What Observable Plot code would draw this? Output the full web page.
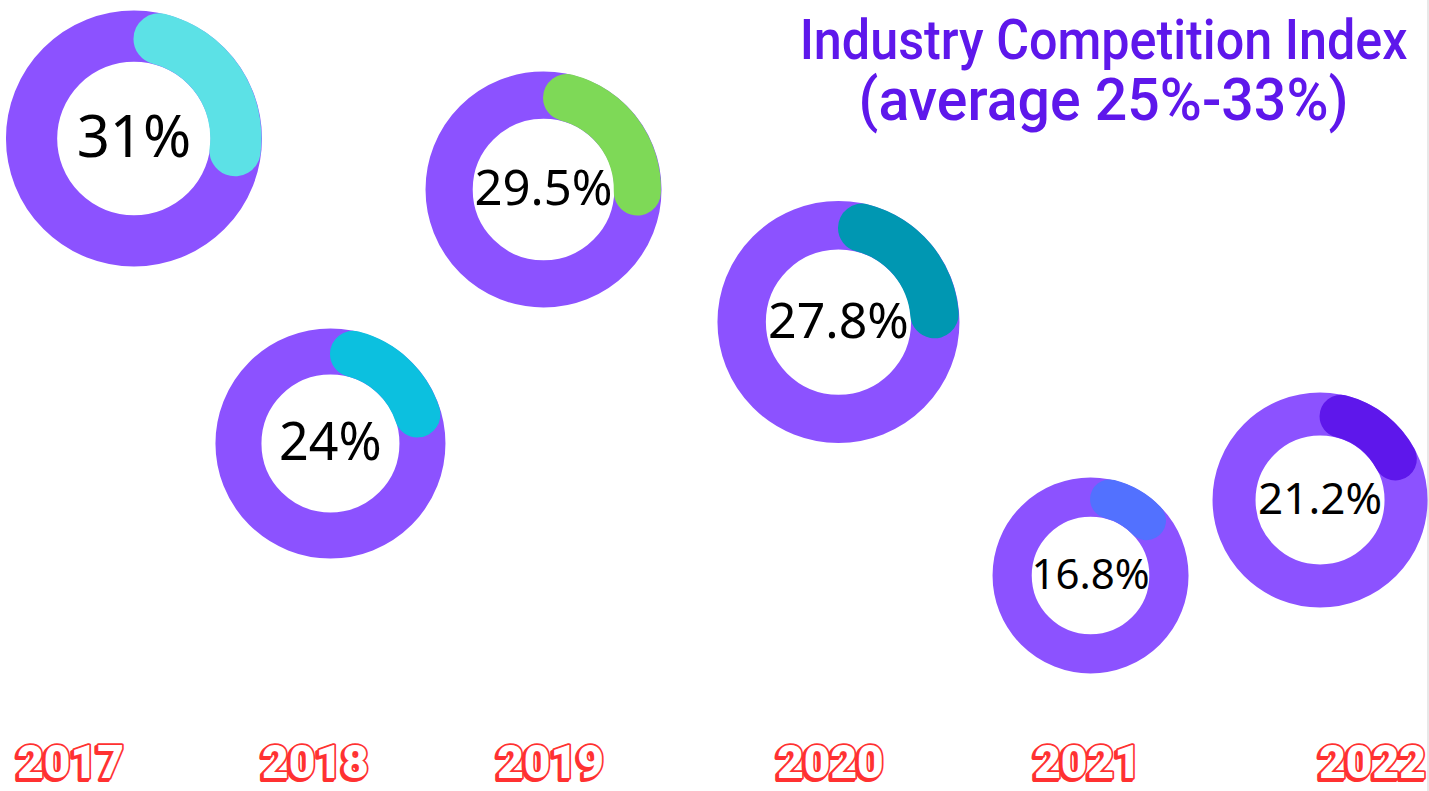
<!DOCTYPE html>
<html>
<head>
<meta charset="utf-8">
<script src="https://cdn.jsdelivr.net/npm/d3@7"></script>
<script src="https://cdn.jsdelivr.net/npm/@observablehq/plot@0.6"></script>
<style>
  html, body { margin: 0; padding: 0; background: #fff; overflow: hidden; }
</style>
</head>
<body>
<div id="chart"></div>
<script>
// ---- data ----
const years = ["2017", "2018", "2019", "2020", "2021", "2022"];
const values = [31, 24, 29.5, 27.8, 16.8, 21.2];
const titleLines = ["Industry Competition Index", "(average 25%-33%)"];

// ---- layout (percent of width / height; radii in px) ----
const centerX = [9.34, 23.09, 38.0, 58.64, 76.28, 92.34];
const centerY = [17.45, 56.0, 23.9, 40.65, 72.69, 63.15];
const outerR = [128, 115, 118, 121, 98, 107.5];
const labelSize = [58, 52, 49, 50, 42, 44];
const yearX = [4.9, 22.04, 38.49, 58.08, 76.07, 96.01];
const yearY = 96.4;
const titleX = 77.19;
const titleY = [7.42, 15.17];
const titleSize = [55, 60];
const titleWidth = [608, 490];

// ---- styles ----
const arcColors = ["#5CE1E6", "#0CC0DF", "#7ED957", "#0097B2", "#5271FF", "#5E17EB"];
const trackColor = "#8C52FF";
const titleColor = "#5E17EB";
const yearRed = "#FF3131";

const W = 1429, H = 791;
const idx = d3.range(years.length);

function progressArcs(index, scales) {
  const sx = (scales && typeof scales.x === "function") ? scales.x : d3.scaleLinear([0, 100], [0, W]);
  const sy = (scales && typeof scales.y === "function") ? scales.y : d3.scaleLinear([0, 100], [0, H]);
  const g = d3.create("svg:g");
  const arc = d3.arc().cornerRadius(d => d.cornerRadius);
  idx.forEach(i => {
    const R = outerR[i], r0 = R * 0.6;
    g.append("path")
      .attr("transform", `translate(${sx(centerX[i])},${sy(centerY[i])})`)
      .attr("fill", arcColors[i])
      .attr("d", arc({
        innerRadius: r0,
        outerRadius: R,
        startAngle: 0,
        endAngle: 2 * Math.PI * values[i] / 100,
        cornerRadius: (R - r0) / 2
      }));
  });
  return g.node();
}

const chart = Plot.plot({
  width: W,
  height: H,
  margin: 0,
  x: {domain: [0, 100], range: [0, W], axis: null},
  y: {domain: [0, 100], range: [0, H], axis: null},
  r: {type: "identity"},
  style: {background: "white", overflow: "visible", boxShadow: "inset -2px 0 0 #e8e8e8"},
  marks: [
    // track rings
    Plot.dot(idx, {
      x: i => centerX[i],
      y: i => centerY[i],
      r: i => outerR[i] * 0.8,
      strokeWidth: i => outerR[i] * 0.4,
      stroke: trackColor,
      fill: "none"
    }),
    // progress arcs
    progressArcs,
    // centre labels
    Plot.text(idx, {
      x: i => centerX[i],
      y: i => centerY[i],
      text: i => values[i] + "%",
      fontSize: i => labelSize[i],
      fontFamily: "Noto Sans",
      fill: "black"
    }),
    // year labels: shadow then main
    Plot.text(idx, {
      x: i => yearX[i],
      y: yearY,
      text: i => years[i],
      dx: -2, dy: 2,
      fontSize: 46,
      fontWeight: 900,
      fontFamily: "Roboto",
      fill: yearRed,
      stroke: yearRed,
      strokeWidth: 4,
      strokeLinejoin: "round"
    }),
    Plot.text(idx, {
      x: i => yearX[i],
      y: yearY,
      text: i => years[i],
      fontSize: 46,
      fontWeight: 900,
      fontFamily: "Roboto",
      fill: "white",
      stroke: yearRed,
      strokeWidth: 3.5,
      strokeLinejoin: "round",
      paintOrder: "stroke"
    }),
    // title lines
    ...titleLines.map((line, k) => Plot.text([line], {
      x: titleX,
      y: titleY[k],
      text: d => d,
      fontSize: titleSize[k],
      fontFamily: "Roboto",
      fontWeight: 500,
      fill: titleColor,
      lineAnchor: "bottom",
      textAnchor: "middle"
    }))
  ]
});

document.getElementById("chart").appendChild(chart);

// condense the title lines horizontally (narrow typeface look)
d3.select(chart).selectAll("text").each(function () {
  const k = titleLines.indexOf(this.textContent);
  if (k < 0) return;
  const natural = this.getComputedTextLength();
  if (!natural) return;
  const s = titleWidth[k] / natural;
  const cx = W * titleX / 100;
  const wrap = document.createElementNS("http://www.w3.org/2000/svg", "g");
  wrap.setAttribute("transform", `translate(${cx},0) scale(${s},1) translate(${-cx},0)`);
  this.parentNode.insertBefore(wrap, this);
  wrap.appendChild(this);
});
</script>
</body>
</html>
